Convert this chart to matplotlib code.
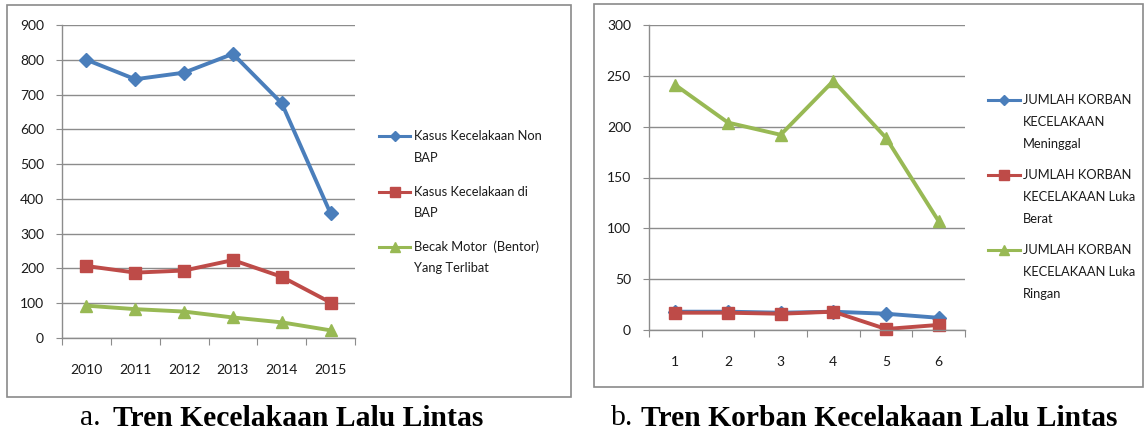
import matplotlib.pyplot as plt
from matplotlib.lines import Line2D
from matplotlib.patches import Rectangle

# tren kecelakaan lalu lintas 2010-2015
tahun = ["2010", "2011", "2012", "2013", "2014", "2015"]
kasus_non_bap = [800, 744, 763, 817, 675, 358]
kasus_bap = [207, 188, 194, 224, 176, 102]
bentor = [93, 83, 76, 59, 45, 22]

# korban kecelakaan
periode = ["1", "2", "3", "4", "5", "6"]
meninggal = [18, 18, 17, 18, 16, 12]
luka_berat = [17, 17, 16, 18, 1, 5]
luka_ringan = [241, 204, 192, 245, 189, 107]

labels_a = [["Kasus Kecelakaan Non", "BAP"],
            ["Kasus Kecelakaan di", "BAP"],
            ["Becak Motor  (Bentor)", "Yang Terlibat"]]
labels_b = [["JUMLAH KORBAN", "KECELAKAAN", "Meninggal"],
            ["JUMLAH KORBAN", "KECELAKAAN Luka", "Berat"],
            ["JUMLAH KORBAN", "KECELAKAAN Luka", "Ringan"]]

BLUE, RED, GREEN = "#4A7EBB", "#BE4B48", "#98B954"
GRID = "#8C8C8C"
styles = [(BLUE, "D", 7), (RED, "s", 8.5), (GREEN, "^", 9)]

plt.rcParams["font.family"] = ["Lato", "DejaVu Sans"]
W, H = 1147, 433
fig = plt.figure(figsize=(W / 100, H / 100), dpi=100)


def px_axes(x0, y0, x1, y1):
    return fig.add_axes([x0 / W, 1 - y1 / H, (x1 - x0) / W, (y1 - y0) / H])


def style_axes(ax, cats, ymax, ystep, xpad):
    n = len(cats)
    ax.set_xlim(0, n)
    ax.set_ylim(0, ymax)
    ax.set_yticks(range(0, ymax + 1, ystep))
    ax.set_xticks(range(n + 1))
    ax.set_xticklabels([])
    ax.set_xticks([i + 0.5 for i in range(n)], minor=True)
    ax.set_xticklabels(cats, minor=True)
    ax.tick_params(axis="x", which="major", length=5, color=GRID, direction="out")
    ax.tick_params(axis="x", which="minor", length=0, pad=xpad, labelsize=10, labelcolor="#1a1a1a")
    ax.tick_params(axis="y", length=4, color=GRID, pad=9, labelsize=10, labelcolor="#1a1a1a")
    ax.grid(axis="y", color=GRID, linewidth=1)
    ax.set_axisbelow(True)
    for s in ("top", "right"):
        ax.spines[s].set_visible(False)
    for s in ("left", "bottom"):
        ax.spines[s].set_color(GRID)
        ax.spines[s].set_linewidth(1)


def draw_legend(x0, x1, xt, rows, labels):
    for (c, m, ms), ys, lines in zip(styles, rows, labels):
        fig.add_artist(Line2D([x0 / W, x1 / W], [1 - ys[0] / H] * 2, color=c, lw=2.2))
        fig.add_artist(Line2D([(x0 + x1) / 2 / W], [1 - ys[0] / H], color=c, marker=m,
                              markersize=ms * 0.8, linestyle="none"))
        for y, t in zip(ys, lines):
            fig.text(xt / W, 1 - y / H, t, ha="left", va="center", fontsize=9.3, color="#1a1a1a")


# panel a
fig.add_artist(Rectangle((7 / W, 1 - 397 / H), 564 / W, 392 / H, transform=fig.transFigure,
                         fill=False, edgecolor="#8A8A8A", lw=1.2))
ax1 = px_axes(62, 25, 355, 338)
xa = [i + 0.5 for i in range(len(tahun))]
for ys, (c, m, ms) in zip([kasus_non_bap, kasus_bap, bentor], styles):
    ax1.plot(xa, ys, color=c, lw=2.8, marker=m, markersize=ms, clip_on=False)
style_axes(ax1, tahun, 900, 100, 19)
draw_legend(379, 410, 414, [(136, 158), (192, 213), (247, 268)], labels_a)

# panel b
fig.add_artist(Rectangle((594 / W, 1 - 387 / H), 549 / W, 383 / H, transform=fig.transFigure,
                         fill=False, edgecolor="#8A8A8A", lw=1.2))
ax2 = px_axes(649, 25, 965, 330)
xb = [i + 0.5 for i in range(len(periode))]
for ys, (c, m, ms) in zip([meninggal, luka_berat, luka_ringan], styles):
    ax2.plot(xb, ys, color=c, lw=2.8, marker=m, markersize=ms, clip_on=False)
style_axes(ax2, periode, 300, 50, 19)
draw_legend(988, 1020, 1023, [(100, 122, 144), (175, 197, 219), (250, 272, 294)], labels_b)

# captions
serif = ["Liberation Serif", "DejaVu Serif"]
fig.text(80 / W, 1 - 418 / H, "a.", family=serif, fontsize=21.3, ha="left", va="center")
fig.text(113 / W, 1 - 418 / H, "Tren Kecelakaan Lalu Lintas", family=serif, fontsize=21.3,
         fontweight="bold", ha="left", va="center")
fig.text(611 / W, 1 - 418 / H, "b.", family=serif, fontsize=21.3, ha="left", va="center")
fig.text(641 / W, 1 - 418 / H, "Tren Korban Kecelakaan Lalu Lintas", family=serif, fontsize=21.3,
         fontweight="bold", ha="left", va="center")

fig.savefig("out.png", dpi=100)
